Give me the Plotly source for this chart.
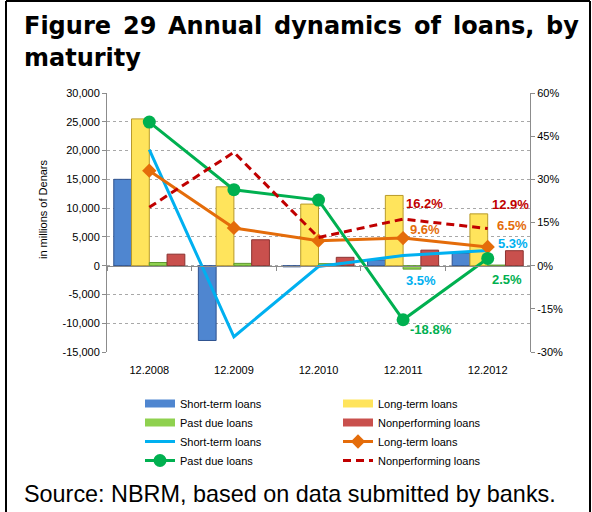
import plotly.graph_objects as go

# ---- data -------------------------------------------------------------
categories = ["12.2008", "12.2009", "12.2010", "12.2011", "12.2012"]

# annual change, in millions of Denars (left axis)
short_term_chg = [15000, -13000, -200, 1000, 2200]
long_term_chg = [25500, 13700, 10700, 12200, 9000]
past_due_chg = [550, 400, 350, -600, 100]
nonperf_chg = [2000, 4500, 1450, 2700, 2600]

# annual growth rate, % (right axis)
short_term_pct = [40.3, -24.7, -0.3, 3.5, 5.3]
long_term_pct = [33.0, 13.1, 8.7, 9.6, 6.5]
past_due_pct = [49.9, 26.4, 22.8, -18.8, 2.5]
nonperf_pct = [20.3, 39.4, 9.8, 16.2, 12.9]

series_names = ["Short-term loans", "Long-term loans", "Past due loans", "Nonperforming loans"]

# axis tick values and labels
left_ticks = [-15000, -10000, -5000, 0, 5000, 10000, 15000, 20000, 25000, 30000]
left_labels = ["-15,000", "-10,000", "-5,000", "0", "5,000", "10,000",
               "15,000", "20,000", "25,000", "30,000"]
right_ticks = [-30, -15, 0, 15, 30, 45, 60]
right_labels = ["-30%", "-15%", "0%", "15%", "30%", "45%", "60%"]

# ---- styling ----------------------------------------------------------
W, H = 592, 512
M_L, M_R, M_T, M_B = 107, 62, 93, 160
PW, PH = W - M_L - M_R, H - M_T - M_B

TXT = "Liberation Sans"
bar_fill = ["#4F86D0", "#FFE45C", "#8FD14F", "#C9504D"]
bar_edge = ["#2F528F", "#B89A2A", "#5F9A30", "#8B3331"]
line_col = {"short": "#00B0F0", "long": "#E46C0A", "past": "#00B050", "npl": "#C00000"}


def px_x(px):
    return (px - M_L) / PW


def px_y(py):
    return (H - M_B - py) / PH


fig = go.Figure()

# legend keys for the bar series (wide flat swatches)
for name, fc in zip(series_names, bar_fill):
    fig.add_trace(go.Scatter(
        x=[None], y=[None], name=name, mode="lines", legendgroup="bar_" + name,
        line=dict(color=fc, width=8), hoverinfo="skip",
    ))

bar_values = [short_term_chg, long_term_chg, past_due_chg, nonperf_chg]
for name, vals, fc, ec in zip(series_names, bar_values, bar_fill, bar_edge):
    fig.add_trace(go.Bar(
        x=categories, y=vals, name=name, legendgroup="bar_" + name, showlegend=False,
        marker=dict(color=fc, line=dict(color=ec, width=1)),
        xaxis="x", yaxis="y",
    ))

fig.add_trace(go.Scatter(
    x=categories, y=short_term_pct, name=series_names[0], mode="lines",
    line=dict(color=line_col["short"], width=3),
    xaxis="x2", yaxis="y2",
))
fig.add_trace(go.Scatter(
    x=categories, y=long_term_pct, name=series_names[1], mode="lines+markers",
    line=dict(color=line_col["long"], width=3),
    marker=dict(symbol="diamond", size=11, color=line_col["long"]),
    xaxis="x2", yaxis="y2",
))
fig.add_trace(go.Scatter(
    x=categories, y=past_due_pct, name=series_names[2], mode="lines+markers",
    line=dict(color=line_col["past"], width=3),
    marker=dict(symbol="circle", size=13, color=line_col["past"]),
    xaxis="x2", yaxis="y2",
))
fig.add_trace(go.Scatter(
    x=categories, y=nonperf_pct, name=series_names[3], mode="lines",
    line=dict(color=line_col["npl"], width=3, dash="8px,5px"),
    xaxis="x2", yaxis="y2",
))

# ---- value labels for the last two years ------------------------------
label_specs = [
    (nonperf_pct, line_col["npl"], [(21, 16), (23, 24)]),
    (long_term_pct, line_col["long"], [(22, 9), (24, 21)]),
    (short_term_pct, line_col["short"], [(18, -25), (25, 7)]),
    (past_due_pct, line_col["past"], [(28, -10), (19, -21)]),
]
annotations = []
for vals, col, shifts in label_specs:
    for idx, (dx, dy) in zip([3, 4], shifts):
        annotations.append(dict(
            x=idx, y=vals[idx], xref="x", yref="y2",
            text=f"{vals[idx]:.1f}%", showarrow=False,
            xshift=dx, yshift=dy,
            font=dict(family=TXT, size=13, color=col, weight="bold"),
        ))

# ---- title (justified first line) -------------------------------------
TITLE_FONT = dict(family="DejaVu Sans", size=24, color="#000000", weight="bold")
title_words = ["Figure", "29", "Annual", "dynamics", "of", "loans,", "by"]
word_left = [22, 121, 166, 272, 412, 451, 544]
for w, xl in zip(title_words, word_left):
    annotations.append(dict(
        x=px_x(xl), y=px_y(26), xref="paper", yref="paper",
        xanchor="left", yanchor="middle", text=w, showarrow=False,
        font=TITLE_FONT,
    ))
annotations.append(dict(
    x=px_x(22), y=px_y(58), xref="paper", yref="paper",
    xanchor="left", yanchor="middle", text="maturity", showarrow=False,
    font=TITLE_FONT,
))

# axis title and source note
annotations.append(dict(
    x=px_x(43), y=px_y(209), xref="paper", yref="paper",
    xanchor="center", yanchor="middle",
    text="in millions of Denars", textangle=-90, showarrow=False,
    font=dict(family=TXT, size=11, color="#000000"),
))
annotations.append(dict(
    x=px_x(22), y=px_y(494), xref="paper", yref="paper",
    xanchor="left", yanchor="middle",
    text="Source: NBRM, based on data submitted by banks.", showarrow=False,
    font=dict(family=TXT, size=23.4, color="#000000"),
))

# outer frame (top, left, right)
frame = dict(color="#000000", width=2)
shapes = [
    dict(type="line", xref="paper", yref="paper", x0=px_x(6), x1=px_x(590), y0=px_y(1), y1=px_y(1), line=frame),
    dict(type="line", xref="paper", yref="paper", x0=px_x(6), x1=px_x(6), y0=px_y(1), y1=px_y(520), line=frame),
    dict(type="line", xref="paper", yref="paper", x0=px_x(590), x1=px_x(590), y0=px_y(1), y1=px_y(520), line=frame),
]

axis_grey = "#8C8C8C"
fig.update_layout(
    width=W, height=H,
    margin=dict(l=M_L, r=M_R, t=M_T, b=M_B, autoexpand=False),
    paper_bgcolor="#FFFFFF", plot_bgcolor="#FFFFFF",
    barmode="group", bargap=0.16, bargroupgap=0.0,
    font=dict(family=TXT, size=11, color="#000000"),
    xaxis=dict(
        type="category", categoryorder="array", categoryarray=categories,
        range=[-0.5, 4.5], showgrid=False, showline=False, zeroline=False,
        ticks="outside", ticklen=8, tickcolor="rgba(0,0,0,0)",
        tickfont=dict(family=TXT, size=11),
    ),
    xaxis2=dict(
        type="category", categoryorder="array", categoryarray=categories,
        range=[-0.5, 4.5], overlaying="x", anchor="free", position=1 / 3,
        showgrid=False, zeroline=False, showticklabels=False,
        showline=True, linecolor=axis_grey, linewidth=1,
        ticks="outside", tickson="boundaries", ticklen=4, tickcolor=axis_grey,
    ),
    yaxis=dict(
        range=[-15000, 30000], tickmode="array", tickvals=left_ticks, ticktext=left_labels,
        showgrid=True, gridcolor="#A8A8A8", griddash="dot", gridwidth=1,
        zeroline=False, showline=True, linecolor=axis_grey, linewidth=1,
        ticks="outside", ticklen=4, tickcolor=axis_grey,
        tickfont=dict(family=TXT, size=11),
    ),
    yaxis2=dict(
        range=[-30, 60], tickmode="array", tickvals=right_ticks, ticktext=right_labels,
        overlaying="y", side="right",
        anchor="x2", showgrid=False, zeroline=False,
        showline=True, linecolor=axis_grey, linewidth=1,
        ticks="outside", ticklen=4, tickcolor=axis_grey,
        tickfont=dict(family=TXT, size=11),
    ),
    legend=dict(
        orientation="h", x=px_x(140), y=px_y(389), xanchor="left", yanchor="top",
        entrywidth=153, font=dict(family=TXT, size=11),
        bgcolor="rgba(0,0,0,0)", traceorder="normal",
    ),
    annotations=annotations,
    shapes=shapes,
)

fig.write_html("out.html")
